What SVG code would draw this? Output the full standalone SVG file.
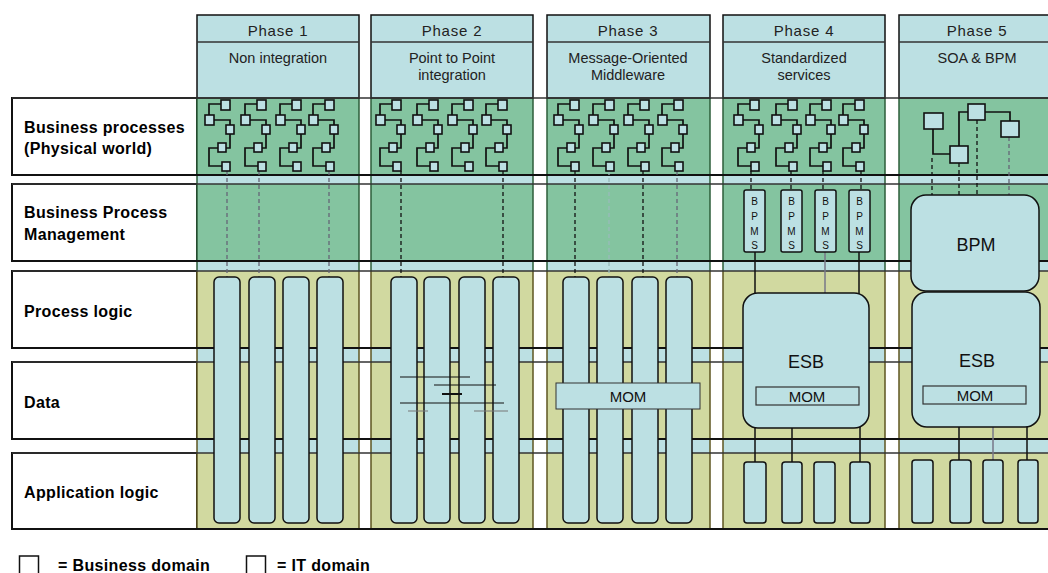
<svg xmlns="http://www.w3.org/2000/svg" xmlns:xlink="http://www.w3.org/1999/xlink" width="1048" height="573" viewBox="0 0 1048 573">
<style>
.hd{fill:#bce0e3;stroke:#111;stroke-width:1.5}
.gr{fill:#84c4a0}
.bl{fill:#bce0e3}
.kh{fill:#d1d9a0}
.lab{fill:#fff;stroke:#111;stroke-width:2}
.hl{stroke:#111;stroke-width:2}
.hl2{stroke:#333;stroke-width:1.3}
.eg{stroke:#2d5e3a;stroke-width:1.5}
.eo{stroke:#5e5520;stroke-width:1.5}
.pil{fill:#bce0e3;stroke:#111;stroke-width:1.5}
.box{fill:#bce0e3;stroke:#111;stroke-width:1.5}
.sq{fill:#bce0e3;stroke:#111;stroke-width:1.6}
.ln{fill:none;stroke:#111;stroke-width:1.7}
.dash{fill:none;stroke:#111;stroke-width:1.3;stroke-dasharray:4 3}
.dashg{fill:none;stroke:#667;stroke-width:1.3;stroke-dasharray:4 3}
.dashl{fill:none;stroke:#9bb;stroke-width:1.3;stroke-dasharray:4 3}
.sl{stroke:#111;stroke-width:1.5}
.slg{stroke:#778;stroke-width:1.5}
.pt{font-family:"Liberation Sans",Arial,sans-serif;font-size:15px;fill:#222;text-anchor:middle;letter-spacing:0.8px}
.st{font-family:"Liberation Sans",Arial,sans-serif;font-size:14.5px;fill:#222;text-anchor:middle}
.rl{font-family:"Liberation Sans",Arial,sans-serif;font-size:16px;font-weight:bold;fill:#000;letter-spacing:0.35px}
.bt{font-family:"Liberation Sans",Arial,sans-serif;font-size:18px;fill:#111;text-anchor:middle}
.mt{font-family:"Liberation Sans",Arial,sans-serif;font-size:15px;fill:#111;text-anchor:middle}
.vt{font-family:"Liberation Sans",Arial,sans-serif;font-size:10px;fill:#111;text-anchor:middle}
</style>
<defs>
<g id="bp">
<path class="ln" d="M12,104 H0 V115 M5,120 H21 V125 M21,134 V148 H17 M9,148 H0 V166 H13"/>
<rect class="sq" x="12" y="100" width="9" height="10"/>
<rect class="sq" x="-4" y="115" width="9" height="10"/>
<rect class="sq" x="17" y="125" width="8" height="9"/>
<rect class="sq" x="9" y="143" width="8" height="9"/>
<rect class="sq" x="13" y="162" width="8" height="9"/>
</g>
</defs>
<rect width="1048" height="573" fill="#fff"/>

<!-- Row label boxes -->
<g id="row-labels">
<g id="row-bp"><rect class="lab" x="12" y="98" width="185" height="77"/><text class="rl" x="24" y="133">Business processes</text><text class="rl" x="24" y="154">(Physical world)</text></g>
<g id="row-bpm"><rect class="lab" x="12" y="184" width="185" height="77"/><text class="rl" x="24" y="218">Business Process</text><text class="rl" x="24" y="240">Management</text></g>
<g id="row-pl"><rect class="lab" x="12" y="271" width="185" height="77"/><text class="rl" x="24" y="317">Process logic</text></g>
<g id="row-data"><rect class="lab" x="12" y="362" width="185" height="77"/><text class="rl" x="24" y="408">Data</text></g>
<g id="row-al"><rect class="lab" x="12" y="453" width="185" height="76"/><text class="rl" x="24" y="498">Application logic</text></g>
</g>

<!-- Phase columns backgrounds -->
<g id="phase1">
<rect class="gr" x="197" y="98" width="162" height="77"/><rect class="bl" x="197" y="175" width="162" height="9"/><rect class="gr" x="197" y="184" width="162" height="77"/><rect class="bl" x="197" y="261" width="162" height="10"/><rect class="kh" x="197" y="271" width="162" height="258"/><rect class="bl" x="197" y="348" width="162" height="14"/><rect class="bl" x="197" y="439" width="162" height="14"/>
<path class="eg" d="M197,98 V271 M359,98 V271"/><path class="eo" d="M197,271 V529 M359,271 V529"/>
<rect class="hd" x="197" y="15" width="162" height="83"/><line class="hl2" x1="197" y1="42" x2="359" y2="42"/>
<text class="pt" x="278" y="36">Phase 1</text><text class="st" x="278" y="63">Non integration</text>
</g>
<g id="phase2">
<rect class="gr" x="371" y="98" width="162" height="77"/><rect class="bl" x="371" y="175" width="162" height="9"/><rect class="gr" x="371" y="184" width="162" height="77"/><rect class="bl" x="371" y="261" width="162" height="10"/><rect class="kh" x="371" y="271" width="162" height="258"/><rect class="bl" x="371" y="348" width="162" height="14"/><rect class="bl" x="371" y="439" width="162" height="14"/>
<path class="eg" d="M371,98 V271 M533,98 V271"/><path class="eo" d="M371,271 V529 M533,271 V529"/>
<rect class="hd" x="371" y="15" width="162" height="83"/><line class="hl2" x1="371" y1="42" x2="533" y2="42"/>
<text class="pt" x="452" y="36">Phase 2</text><text class="st" x="452" y="63">Point to Point</text><text class="st" x="452" y="80">integration</text>
</g>
<g id="phase3">
<rect class="gr" x="547" y="98" width="163" height="77"/><rect class="bl" x="547" y="175" width="163" height="9"/><rect class="gr" x="547" y="184" width="163" height="77"/><rect class="bl" x="547" y="261" width="163" height="10"/><rect class="kh" x="547" y="271" width="163" height="258"/><rect class="bl" x="547" y="348" width="163" height="14"/><rect class="bl" x="547" y="439" width="163" height="14"/>
<path class="eg" d="M547,98 V271 M710,98 V271"/><path class="eo" d="M547,271 V529 M710,271 V529"/>
<rect class="hd" x="547" y="15" width="163" height="83"/><line class="hl2" x1="547" y1="42" x2="710" y2="42"/>
<text class="pt" x="628" y="36">Phase 3</text><text class="st" x="628" y="63">Message-Oriented</text><text class="st" x="628" y="80">Middleware</text>
</g>
<g id="phase4">
<rect class="gr" x="723" y="98" width="162" height="77"/><rect class="bl" x="723" y="175" width="162" height="9"/><rect class="gr" x="723" y="184" width="162" height="77"/><rect class="bl" x="723" y="261" width="162" height="10"/><rect class="kh" x="723" y="271" width="162" height="258"/><rect class="bl" x="723" y="348" width="162" height="14"/><rect class="bl" x="723" y="439" width="162" height="14"/>
<path class="eg" d="M723,98 V271 M885,98 V271"/><path class="eo" d="M723,271 V529 M885,271 V529"/>
<rect class="hd" x="723" y="15" width="162" height="83"/><line class="hl2" x1="723" y1="42" x2="885" y2="42"/>
<text class="pt" x="804" y="36">Phase 4</text><text class="st" x="804" y="63">Standardized</text><text class="st" x="804" y="80">services</text>
</g>
<g id="phase5">
<rect class="gr" x="899" y="98" width="160" height="77"/><rect class="bl" x="899" y="175" width="160" height="9"/><rect class="gr" x="899" y="184" width="160" height="77"/><rect class="bl" x="899" y="261" width="160" height="10"/><rect class="kh" x="899" y="271" width="160" height="258"/><rect class="bl" x="899" y="348" width="160" height="14"/><rect class="bl" x="899" y="439" width="160" height="14"/>
<path class="eg" d="M899,98 V271"/><path class="eo" d="M899,271 V529"/>
<rect class="hd" x="899" y="15" width="160" height="83"/><line class="hl2" x1="899" y1="42" x2="1048" y2="42"/>
<text class="pt" x="977" y="36">Phase 5</text><text class="st" x="977" y="63">SOA &amp; BPM</text>
</g>

<!-- full width row lines -->
<g id="row-lines">
<line class="hl2" x1="12" y1="98" x2="1048" y2="98"/>
<line class="hl" x1="12" y1="175" x2="1048" y2="175"/>
<line class="hl2" x1="12" y1="184" x2="1048" y2="184"/>
<line class="hl" x1="12" y1="261" x2="1048" y2="261"/>
<line class="hl2" x1="12" y1="271" x2="1048" y2="271"/>
<line class="hl" x1="12" y1="348" x2="1048" y2="348"/>
<line class="hl2" x1="12" y1="362" x2="1048" y2="362"/>
<line class="hl" x1="12" y1="439" x2="1048" y2="439"/>
<line class="hl2" x1="12" y1="453" x2="1048" y2="453"/>
<line class="hl" x1="12" y1="529" x2="1048" y2="529"/>
</g>

<!-- connectors -->
<g id="connectors">
<path class="dashg" d="M227,171 V277 M259,171 V277 M329,171 V277"/>
<path class="dash" d="M401,171 V277 M503,171 V277"/>
<path class="dash" d="M575,171 V277 M643,171 V277"/>
<path class="dashl" d="M609,171 V277"/>
<path class="dashg" d="M677,171 V277"/>
<path class="dash" d="M751,171 V190 M791,171 V190 M823,171 V190 M861,171 V190"/>
<path class="sl" d="M755,252 V300 M859,252 V300"/>
<path class="slg" d="M825,252 V300"/>
<path class="sl" d="M755,420 V462 M792,420 V462 M860,420 V462"/>
<path class="dash" d="M932,158 V196 M959,163 V196 M977,120 V196"/>
<path class="dashg" d="M1009,137 V196"/>
<path class="sl" d="M959,420 V460 M1027,420 V460"/>
<path class="slg" d="M993,420 V460"/>
<path class="ln" d="M933,129 V154 H950 M968,112 H959 V146 M985,112 H1010 V121"/>
</g>

<!-- business process glyphs -->
<g id="bp-phase1"><use xlink:href="#bp" href="#bp" x="209"/><use xlink:href="#bp" href="#bp" x="245"/><use xlink:href="#bp" href="#bp" x="280"/><use xlink:href="#bp" href="#bp" x="313"/></g>
<g id="bp-phase2"><use xlink:href="#bp" href="#bp" x="380"/><use xlink:href="#bp" href="#bp" x="417"/><use xlink:href="#bp" href="#bp" x="452"/><use xlink:href="#bp" href="#bp" x="486"/></g>
<g id="bp-phase3"><use xlink:href="#bp" href="#bp" x="558"/><use xlink:href="#bp" href="#bp" x="593"/><use xlink:href="#bp" href="#bp" x="628"/><use xlink:href="#bp" href="#bp" x="662"/></g>
<g id="bp-phase4"><use xlink:href="#bp" href="#bp" x="738"/><use xlink:href="#bp" href="#bp" x="776"/><use xlink:href="#bp" href="#bp" x="810"/><use xlink:href="#bp" href="#bp" x="843"/></g>
<g id="bp-phase5">
<rect class="sq" x="924" y="113" width="19" height="16"/>
<rect class="sq" x="968" y="104" width="17" height="16"/>
<rect class="sq" x="1001" y="121" width="18" height="16"/>
<rect class="sq" x="950" y="146" width="18" height="17"/>
</g>

<!-- pillars -->
<g id="pillars-phase1">
<rect class="pil" x="214" y="277" width="26" height="246" rx="5"/><rect class="pil" x="249" y="277" width="26" height="246" rx="5"/><rect class="pil" x="283" y="277" width="26" height="246" rx="5"/><rect class="pil" x="317" y="277" width="26" height="246" rx="5"/>
</g>
<g id="pillars-phase2">
<rect class="pil" x="391" y="277" width="26" height="246" rx="5"/><rect class="pil" x="424" y="277" width="26" height="246" rx="5"/><rect class="pil" x="459" y="277" width="26" height="246" rx="5"/><rect class="pil" x="493" y="277" width="26" height="246" rx="5"/>
<g id="p2p-links">
<line x1="400" y1="377" x2="470" y2="377" stroke="#111" stroke-width="1"/>
<line x1="434" y1="385" x2="496" y2="385" stroke="#111" stroke-width="1"/>
<line x1="442" y1="394" x2="462" y2="394" stroke="#111" stroke-width="2"/>
<line x1="400" y1="403" x2="504" y2="403" stroke="#111" stroke-width="1"/>
<line x1="408" y1="411" x2="428" y2="411" stroke="#777" stroke-width="1"/>
<line x1="474" y1="411" x2="508" y2="411" stroke="#777" stroke-width="1"/>
</g>
</g>
<g id="pillars-phase3">
<rect class="pil" x="563" y="277" width="26" height="246" rx="5"/><rect class="pil" x="597" y="277" width="26" height="246" rx="5"/><rect class="pil" x="632" y="277" width="26" height="246" rx="5"/><rect class="pil" x="666" y="277" width="26" height="246" rx="5"/>
</g>
<g id="mom-phase3"><rect x="556" y="383" width="144" height="26" fill="#bce0e3" stroke="#333" stroke-width="1"/><text class="mt" x="628" y="402">MOM</text></g>

<!-- phase 4 -->
<g id="bpms-phase4">
<rect class="box" x="744" y="190" width="21" height="62" rx="2"/><rect class="box" x="781" y="190" width="21" height="62" rx="2"/><rect class="box" x="815" y="190" width="21" height="62" rx="2"/><rect class="box" x="849" y="190" width="21" height="62" rx="2"/>
<text class="vt" x="754.5" y="205">B</text><text class="vt" x="754.5" y="220">P</text><text class="vt" x="754.5" y="235">M</text><text class="vt" x="754.5" y="249">S</text>
<text class="vt" x="791.5" y="205">B</text><text class="vt" x="791.5" y="220">P</text><text class="vt" x="791.5" y="235">M</text><text class="vt" x="791.5" y="249">S</text>
<text class="vt" x="825.5" y="205">B</text><text class="vt" x="825.5" y="220">P</text><text class="vt" x="825.5" y="235">M</text><text class="vt" x="825.5" y="249">S</text>
<text class="vt" x="859.5" y="205">B</text><text class="vt" x="859.5" y="220">P</text><text class="vt" x="859.5" y="235">M</text><text class="vt" x="859.5" y="249">S</text>
</g>
<g id="esb-phase4"><rect class="box" x="743" y="293" width="126" height="135" rx="15"/><text class="bt" x="806" y="368">ESB</text><rect x="756" y="387" width="103" height="18" fill="#bce0e3" stroke="#333" stroke-width="1.2"/><text class="mt" x="807" y="402">MOM</text></g>
<g id="apps-phase4">
<rect class="box" x="744" y="462" width="22" height="61" rx="3"/><rect class="box" x="782" y="462" width="20" height="61" rx="3"/><rect class="box" x="814" y="462" width="21" height="61" rx="3"/><rect class="box" x="850" y="462" width="20" height="61" rx="3"/>
</g>

<!-- phase 5 -->
<g id="bpm-phase5"><rect class="box" x="911" y="195" width="128" height="96" rx="15"/><text class="bt" x="976" y="251">BPM</text></g>
<g id="esb-phase5"><rect class="box" x="912" y="292" width="128" height="135" rx="15"/><text class="bt" x="977" y="367">ESB</text><rect x="923" y="386" width="103" height="18" fill="#bce0e3" stroke="#333" stroke-width="1.2"/><text class="mt" x="975" y="401">MOM</text></g>
<g id="apps-phase5">
<rect class="box" x="912" y="460" width="21" height="63" rx="3"/><rect class="box" x="950" y="460" width="21" height="63" rx="3"/><rect class="box" x="983" y="460" width="20" height="63" rx="3"/><rect class="box" x="1018" y="460" width="20" height="63" rx="3"/>
</g>

<!-- legend -->
<g id="legend">
<rect x="19.5" y="556" width="19" height="20" fill="#fff" stroke="#111" stroke-width="1.5"/>
<text class="rl" x="58" y="571">= Business domain</text>
<rect x="246.5" y="556" width="19" height="20" fill="#fff" stroke="#111" stroke-width="1.5"/>
<text class="rl" x="277" y="571">= IT domain</text>
</g>
</svg>
